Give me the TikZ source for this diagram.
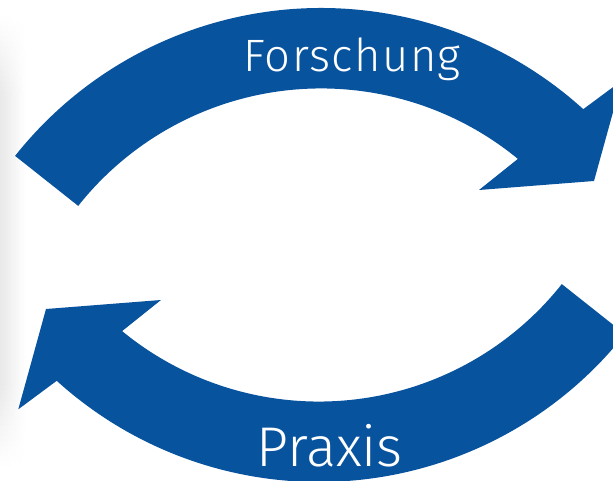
\documentclass[tikz,border=0pt]{standalone}
\usepackage{fontspec}
\setmainfont{Fira Sans}[UprightFont={* Light},LetterSpace=3]
\newfontfamily\praxisfont{Fira Sans}[UprightFont={* Light},LetterSpace=0]
\usetikzlibrary{calc}
\definecolor{cycleblue}{RGB}{8,83,158}
\begin{document}
\begin{tikzpicture}[x=0.75pt,y=0.75pt,
  cyclearrow/.style={fill=cycleblue,draw=none},
  cyclelabel/.style={text=white,anchor=base,inner sep=0pt}]
\useasboundingbox (0,0) rectangle (613,481);
\begin{scope}
\clip (0,0) rectangle (613,481);
% soft shade along the left edge, fading out to the right and towards top and bottom
\foreach \k in {0,...,89} {
  \pgfmathsetmacro{\ylo}{15+5*\k}
  \pgfmathsetmacro{\vf}{min(1,min(\k+0.5,89.5-\k)/16)}
  \foreach \i in {0,...,12} {
    \pgfmathsetmacro{\g}{9*\vf*(1-(\i+0.5)/13)}
    \fill[black!\g] (2*\i,\ylo) rectangle (2*\i+2.1,\ylo+5.1);
  }
}
% upper arrow, turning clockwise
\newcommand{\cyclearc}{%
  \fill[cyclearrow] (15.1,325.1) arc[start angle=141.6,end angle=47.8,radius=390.4]
    -- (621.7,400.3) -- (594,300) -- (479,291) -- (517.9,322.1)
    arc[start angle=50.6,end angle=141.6,radius=310] -- cycle;}
\cyclearc
% lower arrow: the same shape turned half a revolution
\begin{scope}[rotate around={180:(320,236)}]
\cyclearc
\end{scope}
\end{scope}
\node[cyclelabel,font=\fontsize{34}{40}\selectfont] (forschung) at (352,409) {Forschung};
\node[cyclelabel,font=\praxisfont\fontsize{42}{50}\selectfont] (praxis) at (329.5,14.3) {Praxis};
\end{tikzpicture}
\end{document}
